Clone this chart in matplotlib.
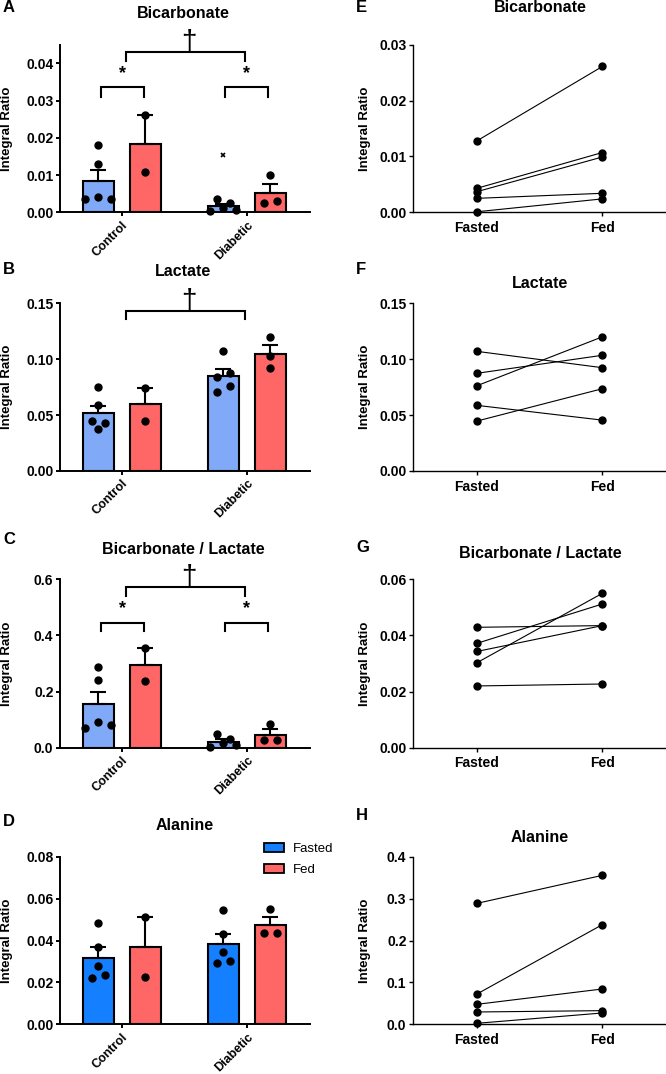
import numpy as np
import matplotlib
matplotlib.use("Agg")
import matplotlib.pyplot as plt
from matplotlib.patches import Patch

plt.rcParams["font.family"] = ["Liberation Sans", "DejaVu Sans"]
plt.rcParams["font.weight"] = "bold"

W, H = 666, 1074

groups = ["Control", "Diabetic"]
conditions = ["Fasted", "Fed"]

# left column: single animals per group (mean / SEM come from these)
bicarb_ctrl_fasted = [0.0181, 0.0129, 0.0035, 0.0042, 0.0035]
bicarb_ctrl_fed = [0.0261, 0.0107]
bicarb_diab_fasted = [0.0035, 0.0026, 0.0004, 0.0011, 0.0006]
bicarb_diab_fed = [0.0100, 0.0024, 0.0030]
bicarb_diab_excluded = [0.0154]  # drawn as x, left out of the mean

lactate_ctrl_fasted = [0.0748, 0.0590, 0.0447, 0.0426, 0.0373]
lactate_ctrl_fed = [0.0740, 0.0450]
lactate_diab_fasted = [0.1070, 0.0838, 0.0874, 0.0710, 0.0763]
lactate_diab_fed = [0.1199, 0.1029, 0.0924]

ratio_ctrl_fasted = [0.2876, 0.2412, 0.0713, 0.0903, 0.0810]
ratio_ctrl_fed = [0.3540, 0.2377]
ratio_diab_fasted = [0.0487, 0.0297, 0.0040, 0.0154, 0.0095]
ratio_diab_fed = [0.0844, 0.0273, 0.0273]

alanine_ctrl_fasted = [0.0485, 0.0371, 0.0278, 0.0219, 0.0234]
alanine_ctrl_fed = [0.0512, 0.0227]
alanine_diab_fasted = [0.0546, 0.0429, 0.0344, 0.0293, 0.0304]
alanine_diab_fed = [0.0552, 0.0437, 0.0437]

# right column: paired fasted -> fed
pair_bicarb_fasted = [0.0128, 0.0043, 0.0037, 0.0025, 0.0001]
pair_bicarb_fed = [0.0261, 0.0107, 0.0099, 0.0034, 0.0024]
pair_lactate_fasted = [0.1070, 0.0874, 0.0763, 0.0587, 0.0447]
pair_lactate_fed = [0.0924, 0.1035, 0.1200, 0.0455, 0.0736]
pair_ratio_fasted = [0.0429, 0.0372, 0.0343, 0.0303, 0.0220]
pair_ratio_fed = [0.0435, 0.0512, 0.0435, 0.0550, 0.0227]
pair_alanine_fasted = [0.2887, 0.0724, 0.0477, 0.0294, 0.0024]
pair_alanine_fed = [0.3555, 0.2378, 0.0843, 0.0326, 0.0270]

LIGHT_BLUE = "#80AAF7"
BLUE = "#1580FF"
RED = "#FF6666"

BAR_OFF = 0.188
BAR_W = 0.245
AX_H = 168  # axes height in px
UNIT = 125  # px per category
TICK_FS = 10


def px_axes(fig, left, top, right, bottom):
    return fig.add_axes([left / W, 1 - bottom / H, (right - left) / W, (bottom - top) / H])


def swarm_offsets(vals, ytop, step_px=13, diam_px=7):
    """Rows of close points are spread symmetrically, like Prism does."""
    vals = np.asarray(vals, float)
    ypx = vals / ytop * AX_H
    rows = []
    for i in np.argsort(-ypx, kind="stable"):
        if rows and ypx[rows[-1][0]] - ypx[i] < diam_px:
            rows[-1].append(i)
        else:
            rows.append([i])
    offs = np.zeros(len(vals))
    for row in rows:
        row = sorted(row)
        n = len(row)
        for k, i in enumerate(row):
            offs[i] = (k - (n - 1) / 2) * step_px / UNIT
    return offs


def style(ax, ytop, step, fmt, lw):
    ax.set_ylim(0, ytop)
    ticks = np.arange(0, ytop + step / 2, step)
    ax.set_yticks(ticks)
    ax.set_yticklabels([fmt.format(t) for t in ticks])
    for s in ["top", "right"]:
        ax.spines[s].set_visible(False)
    for s in ["left", "bottom"]:
        ax.spines[s].set_linewidth(lw)
    ax.tick_params(width=lw, length=3.2, labelsize=TICK_FS, pad=1.5)


def bar_panel(ax, data, ytop, step, fmt, fasted_color):
    xs = [0 - BAR_OFF, 0 + BAR_OFF, 1 - BAR_OFF, 1 + BAR_OFF]
    colors = [fasted_color, RED, fasted_color, RED]
    for x, vals, c in zip(xs, data, colors):
        vals = np.asarray(vals)
        m = vals.mean()
        sem = vals.std(ddof=1) / np.sqrt(len(vals))
        ax.bar(x, m, width=BAR_W, color=c, edgecolor="k", linewidth=1.5, zorder=2)
        ax.errorbar(x, m, yerr=[[0], [sem]], fmt="none", ecolor="k",
                    elinewidth=1.5, capsize=5.5, capthick=1.5, zorder=3)
        ax.plot(x + swarm_offsets(vals, ytop), vals, "o", color="k", ms=5,
                zorder=4, clip_on=False)
    style(ax, ytop, step, fmt, 1.4)
    ax.set_xlim(-0.494, 1.506)
    ax.set_xticks([0, 1])
    ax.set_xticklabels(groups, rotation=45, ha="right", va="top",
                       rotation_mode="anchor", fontsize=9)
    ax.tick_params(axis="x", pad=1.5)
    ax.set_ylabel("Integral Ratio", fontsize=9.5, fontweight="bold")
    ax.yaxis.set_label_coords(-0.19, 0.5)


def bracket(ax, x0, x1, y, leg, mark):
    tr = ax.get_xaxis_transform()
    ax.plot([x0, x0, x1, x1], [y - leg, y, y, y - leg], color="k", lw=1.5,
            transform=tr, clip_on=False, solid_joinstyle="miter")
    if mark == "*":
        ax.text((x0 + x1) / 2, y + 0.03, "*", transform=tr, ha="center",
                va="bottom", fontsize=13, fontweight="bold")
    else:
        ax.text((x0 + x1) / 2 + 0.03, y + 0.018, mark, transform=tr, ha="center",
                va="baseline", fontsize=20, fontweight="normal")


def pair_panel(ax, fasted, fed, ytop, step, fmt):
    for a, b in zip(fasted, fed):
        ax.plot([0, 1], [a, b], "-o", color="k", lw=0.8, ms=5, clip_on=False)
    style(ax, ytop, step, fmt, 1.0)
    ax.set_xlim(-0.511, 1.508)
    ax.set_xticks([0, 1])
    ax.set_xticklabels(conditions, fontsize=10)
    ax.tick_params(axis="x", pad=3)
    ax.set_ylabel("Integral Ratio", fontsize=9.5, fontweight="bold")
    ax.yaxis.set_label_coords(-0.166, 0.5)


fig = plt.figure(figsize=(W / 100, H / 100), dpi=100)

rows = [(44.7, 212.3), (303.3, 471.0), (579.3, 747.7), (856.7, 1024.3)]
axL = [px_axes(fig, 60, t, 310, b) for t, b in rows]
axR = [px_axes(fig, 413, t, 666, b) for t, b in rows]

# A
bar_panel(axL[0], [bicarb_ctrl_fasted, bicarb_ctrl_fed, bicarb_diab_fasted, bicarb_diab_fed],
          0.045, 0.01, "{:.2f}", LIGHT_BLUE)
axL[0].set_yticks(np.arange(0, 0.041, 0.01))
axL[0].set_yticklabels(["0.00", "0.01", "0.02", "0.03", "0.04"])
axL[0].plot([1 - BAR_OFF] * len(bicarb_diab_excluded), bicarb_diab_excluded, "x",
            color="k", ms=3.5, mew=1.2, zorder=4)
bracket(axL[0], 0.034, 0.986, 0.955, 0.055, "\u2020")
bracket(axL[0], -0.166, 0.178, 0.745, 0.055, "*")
bracket(axL[0], 0.83, 1.168, 0.745, 0.055, "*")

# B
bar_panel(axL[1], [lactate_ctrl_fasted, lactate_ctrl_fed, lactate_diab_fasted, lactate_diab_fed],
          0.15, 0.05, "{:.2f}", LIGHT_BLUE)
bracket(axL[1], 0.034, 0.986, 0.955, 0.05, "\u2020")

# C
bar_panel(axL[2], [ratio_ctrl_fasted, ratio_ctrl_fed, ratio_diab_fasted, ratio_diab_fed],
          0.6, 0.2, "{:.1f}", LIGHT_BLUE)
bracket(axL[2], 0.034, 0.986, 0.953, 0.05, "\u2020")
bracket(axL[2], -0.166, 0.178, 0.743, 0.05, "*")
bracket(axL[2], 0.83, 1.168, 0.743, 0.05, "*")

# D
bar_panel(axL[3], [alanine_ctrl_fasted, alanine_ctrl_fed, alanine_diab_fasted, alanine_diab_fed],
          0.08, 0.02, "{:.2f}", BLUE)

pair_panel(axR[0], pair_bicarb_fasted, pair_bicarb_fed, 0.03, 0.01, "{:.2f}")
pair_panel(axR[1], pair_lactate_fasted, pair_lactate_fed, 0.15, 0.05, "{:.2f}")
pair_panel(axR[2], pair_ratio_fasted, pair_ratio_fed, 0.06, 0.02, "{:.2f}")
pair_panel(axR[3], pair_alanine_fasted, pair_alanine_fed, 0.4, 0.1, "{:.1f}")

titles = [
    ("Bicarbonate", 183, 13), ("Lactate", 183, 272),
    ("Bicarbonate / Lactate", 183, 550), ("Alanine", 185, 825),
    ("Bicarbonate", 540, 8), ("Lactate", 540, 283),
    ("Bicarbonate / Lactate", 540, 554), ("Alanine", 540, 838),
]
for txt, x, y in titles:
    fig.text(x / W, 1 - y / H, txt, ha="center", va="center", fontsize=11.5, fontweight="bold")

letters = [("A", 3, 8), ("B", 3, 270), ("C", 3, 539), ("D", 3, 822),
           ("E", 356, 8), ("F", 356, 270), ("G", 356, 547), ("H", 356, 815)]
for txt, x, y in letters:
    fig.text(x / W, 1 - y / H, txt, ha="left", va="center", fontsize=12, fontweight="bold")

handles = [Patch(facecolor=BLUE, edgecolor="k", linewidth=1.3, label="Fasted"),
           Patch(facecolor=RED, edgecolor="k", linewidth=1.3, label="Fed")]
fig.legend(handles=handles, loc="upper left", bbox_to_anchor=(264 / W, 1 - 843 / H),
           frameon=False, prop={"size": 9.5, "weight": "normal"}, handlelength=1.5,
           handleheight=0.7, handletextpad=0.7, labelspacing=0.65,
           borderpad=0, borderaxespad=0)

fig.savefig("out.png", dpi=100)
